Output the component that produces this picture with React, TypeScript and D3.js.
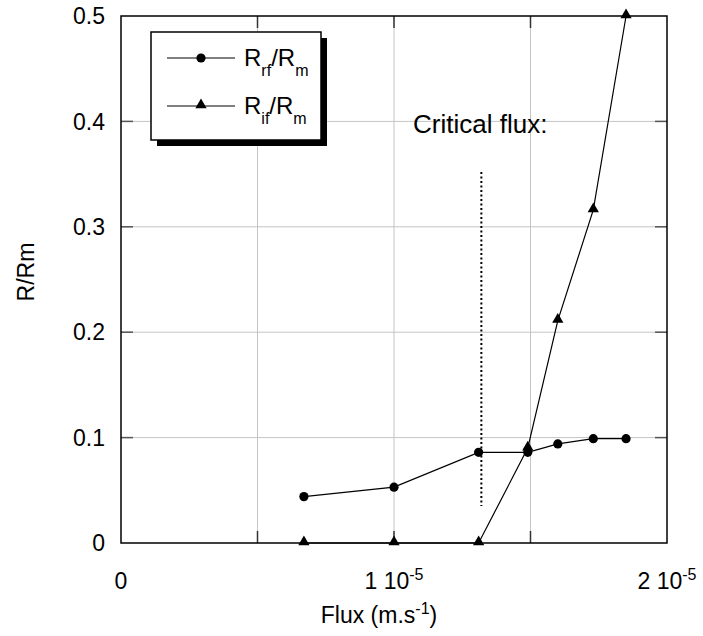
import { useEffect, useRef } from 'react'
import * as d3 from 'd3'

// flux values (m/s) shared by both series
const flux = [0.67e-5, 1.0e-5, 1.31e-5, 1.49e-5, 1.6e-5, 1.73e-5, 1.85e-5]
const rfRm = [0.044, 0.053, 0.086, 0.086, 0.094, 0.099, 0.099]
const ifRm = [0, 0, 0, 0.09, 0.211, 0.316, 0.5]

const xGrid = [0, 0.5e-5, 1e-5, 1.5e-5, 2e-5]
const yGrid = [0, 0.1, 0.2, 0.3, 0.4, 0.5]
const xTickLabels = [
  { v: 0, main: '0', sup: '' },
  { v: 1e-5, main: '1 10', sup: '-5' },
  { v: 2e-5, main: '2 10', sup: '-5' },
]
const yTickLabels = ['0', '0.1', '0.2', '0.3', '0.4', '0.5']
const criticalFlux = 1.32e-5

const FONT = '"Liberation Sans", Arial, sans-serif'

export default function App() {
  const svgRef = useRef<SVGSVGElement>(null)

  useEffect(() => {
    if (!svgRef.current) return
    const svg = d3.select(svgRef.current)
    svg.selectAll('*').remove()

    const left = 121, right = 667, top = 16, bottom = 543
    const x = d3.scaleLinear().domain([0, 2e-5]).range([left, right])
    const y = d3.scaleLinear().domain([0, 0.5]).range([bottom, top])

    const g = svg.append('g').attr('font-family', FONT)

    // gridlines
    g.selectAll('.vgrid')
      .data(xGrid.slice(1, -1))
      .enter()
      .append('line')
      .attr('x1', d => x(d)).attr('x2', d => x(d))
      .attr('y1', top).attr('y2', bottom)
      .attr('stroke', '#c4c4c4').attr('stroke-width', 1)
    g.selectAll('.hgrid')
      .data(yGrid.slice(1, -1))
      .enter()
      .append('line')
      .attr('x1', left).attr('x2', right)
      .attr('y1', d => y(d)).attr('y2', d => y(d))
      .attr('stroke', '#c4c4c4').attr('stroke-width', 1)

    // inner ticks
    const tk = 12
    xGrid.slice(1, -1).forEach(v => {
      g.append('line').attr('x1', x(v)).attr('x2', x(v)).attr('y1', bottom).attr('y2', bottom - tk)
        .attr('stroke', '#333').attr('stroke-width', 1.5)
      g.append('line').attr('x1', x(v)).attr('x2', x(v)).attr('y1', top).attr('y2', top + tk)
        .attr('stroke', '#333').attr('stroke-width', 1.5)
    })
    yGrid.slice(1, -1).forEach(v => {
      g.append('line').attr('x1', left).attr('x2', left + tk).attr('y1', y(v)).attr('y2', y(v))
        .attr('stroke', '#555').attr('stroke-width', 1.5)
      g.append('line').attr('x1', right).attr('x2', right - tk).attr('y1', y(v)).attr('y2', y(v))
        .attr('stroke', '#555').attr('stroke-width', 1.5)
    })

    // frame
    g.append('rect')
      .attr('x', left).attr('y', top)
      .attr('width', right - left).attr('height', bottom - top)
      .attr('fill', 'none').attr('stroke', '#000').attr('stroke-width', 1.5)

    // y tick labels
    g.selectAll('.ylab')
      .data(yGrid)
      .enter()
      .append('text')
      .attr('x', 105)
      .attr('y', d => y(d))
      .attr('dy', '0.36em')
      .attr('text-anchor', 'end')
      .attr('font-size', 23)
      .text((d, i) => yTickLabels[i])

    // x tick labels
    xTickLabels.forEach(t => {
      const txt = g.append('text')
        .attr('x', x(t.v)).attr('y', 589)
        .attr('text-anchor', 'middle')
        .attr('font-size', 23)
      txt.append('tspan').text(t.main)
      if (t.sup) txt.append('tspan').attr('dy', -9).attr('font-size', 16).text(t.sup)
    })

    // axis titles
    const xt = g.append('text')
      .attr('x', 379).attr('y', 623)
      .attr('text-anchor', 'middle')
      .attr('font-size', 23)
    xt.append('tspan').text('Flux (m.s')
    xt.append('tspan').attr('dy', -9).attr('font-size', 16).text('-1')
    xt.append('tspan').attr('dy', 9).text(')')

    g.append('text')
      .attr('transform', `translate(34,272) rotate(-90)`)
      .attr('text-anchor', 'middle')
      .attr('font-size', 23)
      .text('R/Rm')

    // critical flux marker
    g.append('line')
      .attr('x1', x(criticalFlux)).attr('x2', x(criticalFlux))
      .attr('y1', 172).attr('y2', 506)
      .attr('stroke', '#000').attr('stroke-width', 2)
      .attr('stroke-dasharray', '2,2.5')
    g.append('text')
      .attr('x', 413).attr('y', 133)
      .attr('font-size', 26)
      .text('Critical flux:')

    const line = d3.line<number>().x((d, i) => x(flux[i])).y(d => y(d))
    const tri = d3.symbol().type(d3.symbolTriangle).size(55)

    // R_rf / R_m
    g.append('path').attr('d', line(rfRm)!).attr('fill', 'none').attr('stroke', '#000').attr('stroke-width', 1.2)
    // R_if / R_m
    g.append('path').attr('d', line(ifRm)!).attr('fill', 'none').attr('stroke', '#000').attr('stroke-width', 1.2)

    g.selectAll('.tri')
      .data(ifRm)
      .enter()
      .append('path')
      .attr('d', tri()!)
      .attr('transform', (d, i) => `translate(${x(flux[i])},${y(d) - 1})`)
      .attr('fill', '#000')
    g.selectAll('.dot')
      .data(rfRm)
      .enter()
      .append('circle')
      .attr('cx', (d, i) => x(flux[i]))
      .attr('cy', d => y(d))
      .attr('r', 4.6)
      .attr('fill', '#000')

    // legend
    const lx = 151, ly = 32, lw = 170, lh = 108
    g.append('rect').attr('x', lx + 6).attr('y', ly + 6).attr('width', lw).attr('height', lh).attr('fill', '#000')
    g.append('rect').attr('x', lx).attr('y', ly).attr('width', lw).attr('height', lh)
      .attr('fill', '#fff').attr('stroke', '#000').attr('stroke-width', 1.5)

    const rows = [
      { yy: 58, sub: 'rf', marker: 'dot' },
      { yy: 106, sub: 'if', marker: 'tri' },
    ]
    rows.forEach(r => {
      g.append('line').attr('x1', 167).attr('x2', 235).attr('y1', r.yy).attr('y2', r.yy)
        .attr('stroke', '#000').attr('stroke-width', 1)
      if (r.marker === 'dot') {
        g.append('circle').attr('cx', 201).attr('cy', r.yy).attr('r', 4.6).attr('fill', '#000')
      } else {
        g.append('path').attr('d', tri()!).attr('transform', `translate(201,${r.yy - 1})`).attr('fill', '#000')
      }
      const t = g.append('text').attr('x', 244).attr('y', r.yy + 8).attr('font-size', 24)
      t.append('tspan').text('R')
      t.append('tspan').attr('dy', 10).attr('font-size', 16).text(r.sub)
      t.append('tspan').attr('dy', -10).text('/R')
      t.append('tspan').attr('dy', 10).attr('font-size', 16).text('m')
    })
  }, [])

  return (
    <svg
      ref={svgRef}
      width={703}
      height={636}
      style={{ position: 'absolute', left: 0, top: 0, background: '#fff' }}
    />
  )
}
